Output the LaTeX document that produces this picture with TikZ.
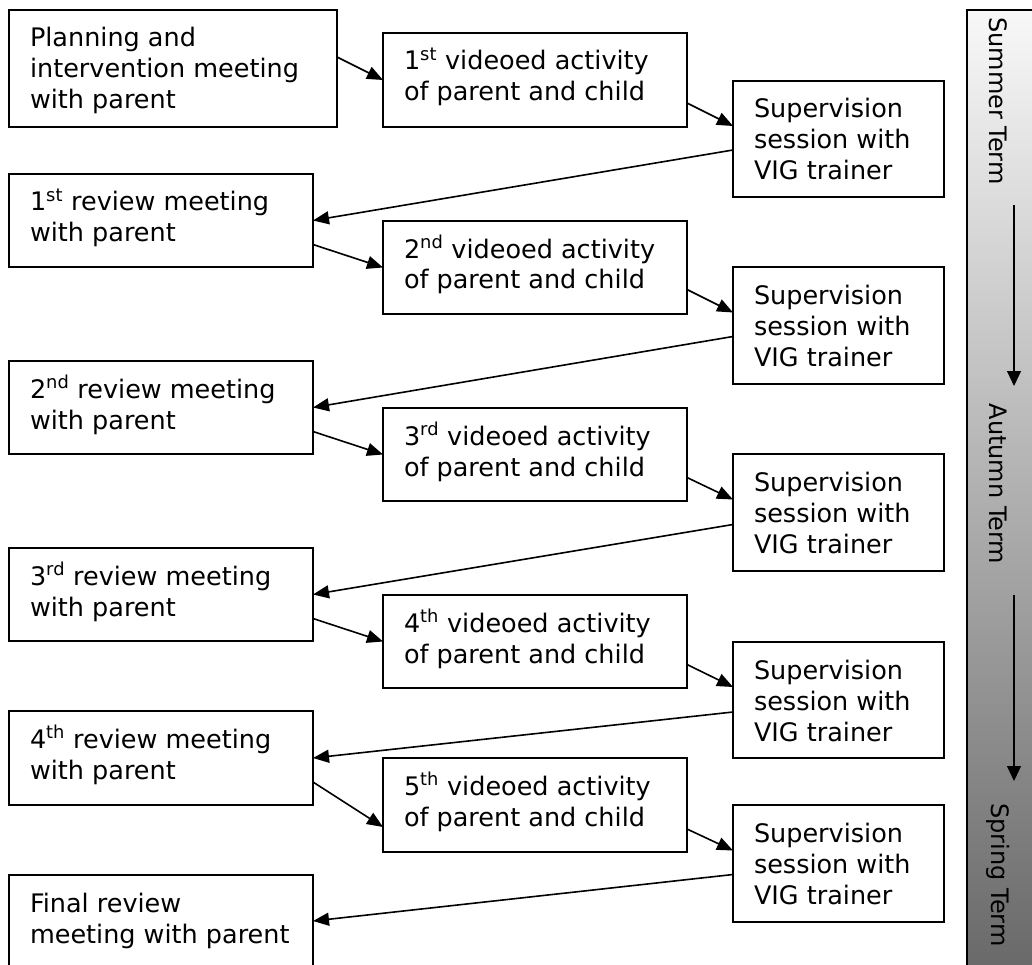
\documentclass[tikz,border=0pt]{standalone}
\usepackage{fontspec}
\setmainfont{DejaVu Sans}
\usetikzlibrary{arrows.meta}

% A fixed-size cell: width, height, text set flush left, first baseline 37pt down
\newcommand\boxcell[3]{\parbox[c][#2pt][t]{#1pt}{\raggedright\leftskip=21pt\rule{0pt}{37pt}#3}}

\definecolor{bartop}{RGB}{248,248,248}
\definecolor{barbottom}{RGB}{104,104,104}

\tikzset{
  stage/.style={draw=black, line width=1.7pt, inner sep=0pt, outer sep=0pt,
    anchor=north west, font=\fontsize{25.5}{31}\selectfont},
  flow/.style={line width=1.6pt, -{Triangle[length=16pt,width=13pt]}},
  termlabel/.style={rotate=-90, anchor=center, inner sep=0pt,
    font=\fontsize{24}{29}\selectfont},
  termarrow/.style={line width=1.1pt, -{Triangle[length=15pt,width=14pt]}},
}

\begin{document}
\begin{tikzpicture}[x=1pt,y=-1pt]
\useasboundingbox (0,0) rectangle (1032,965);
\clip (0,0) rectangle (1032,965);

% term bar on the right
\shade[top color=bartop, bottom color=barbottom] (967,10) rectangle (1040,975);
\draw[line width=1.7pt] (967,975) -- (967,10) -- (1040,10);

\node[termlabel] (summer) at (998,101) {Summer Term};
\node[termlabel] (autumn) at (998,484) {Autumn Term};
\node[termlabel] (spring) at (998,875) {Spring Term};
\coordinate (t1a) at (1014,205);
\coordinate (t1b) at (1014,386);
\coordinate (t2a) at (1014,595);
\coordinate (t2b) at (1014,781);
\draw[termarrow] (t1a) -- (t1b);
\draw[termarrow] (t2a) -- (t2b);

% stages
\node[stage] (plan) at (9,10) {\boxcell{328}{117}{Planning and\\intervention meeting\\with parent}};
\node[stage] (vid1) at (383,33) {\boxcell{304}{94}{1\textsuperscript{st} videoed activity\\of parent and child}};
\node[stage] (sup1) at (733,81) {\boxcell{211}{116}{Supervision\\session with\\VIG trainer}};
\node[stage] (rev1) at (9,174) {\boxcell{304}{93}{1\textsuperscript{st} review meeting\\with parent}};
\node[stage] (vid2) at (383,221) {\boxcell{304}{93}{2\textsuperscript{nd} videoed activity\\of parent and child}};
\node[stage] (sup2) at (733,267) {\boxcell{211}{117}{Supervision\\session with\\VIG trainer}};
\node[stage] (rev2) at (9,361) {\boxcell{304}{93}{2\textsuperscript{nd} review meeting\\with parent}};
\node[stage] (vid3) at (383,408) {\boxcell{304}{93}{3\textsuperscript{rd} videoed activity\\of parent and child}};
\node[stage] (sup3) at (733,454) {\boxcell{211}{117}{Supervision\\session with\\VIG trainer}};
\node[stage] (rev3) at (9,548) {\boxcell{304}{93}{3\textsuperscript{rd} review meeting\\with parent}};
\node[stage] (vid4) at (383,595) {\boxcell{304}{93}{4\textsuperscript{th} videoed activity\\of parent and child}};
\node[stage] (sup4) at (733,642) {\boxcell{211}{116}{Supervision\\session with\\VIG trainer}};
\node[stage] (rev4) at (9,711) {\boxcell{304}{94}{4\textsuperscript{th} review meeting\\with parent}};
\node[stage] (vid5) at (383,758) {\boxcell{304}{94}{5\textsuperscript{th} videoed activity\\of parent and child}};
\node[stage] (sup5) at (733,805) {\boxcell{211}{117}{Supervision\\session with\\VIG trainer}};
\node[stage] (final) at (9,875) {\boxcell{304}{130}{Final review\\meeting with parent}};

% connectors
\draw[flow] ([yshift=-47pt]plan.north east) -- (vid1.west);
\draw[flow] ([yshift=-23pt]vid1.east) -- ([yshift=13pt]sup1.west);
\draw[flow] ([yshift=-11pt]sup1.west) -- (rev1.east);
\draw[flow] ([yshift=-24pt]rev1.east) -- (vid2.west);
\draw[flow] ([yshift=-22pt]vid2.east) -- ([yshift=13pt]sup2.west);
\draw[flow] ([yshift=-11pt]sup2.west) -- (rev2.east);
\draw[flow] ([yshift=-24pt]rev2.east) -- (vid3.west);
\draw[flow] ([yshift=-23pt]vid3.east) -- ([yshift=13pt]sup3.west);
\draw[flow] ([yshift=-12pt]sup3.west) -- (rev3.east);
\draw[flow] ([yshift=-24pt]rev3.east) -- (vid4.west);
\draw[flow] ([yshift=-23pt]vid4.east) -- ([yshift=13pt]sup4.west);
\draw[flow] ([yshift=-12pt]sup4.west) -- (rev4.east);
\draw[flow] ([yshift=-24pt]rev4.east) -- ([yshift=-22pt]vid5.west);
\draw[flow] ([yshift=-24pt]vid5.east) -- ([yshift=13pt]sup5.west);
\draw[flow] ([yshift=-11pt]sup5.west) -- ([yshift=-46pt]final.north east);
\end{tikzpicture}
\end{document}
